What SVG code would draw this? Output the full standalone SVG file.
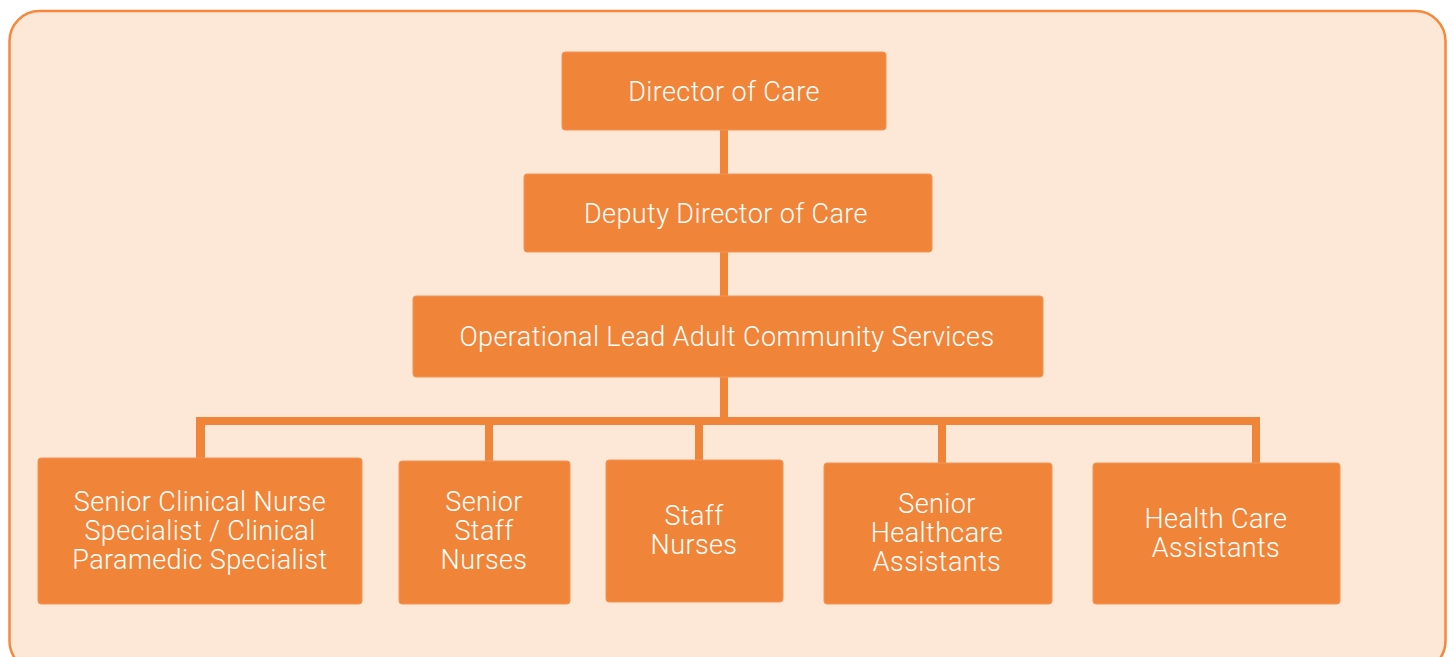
<svg xmlns="http://www.w3.org/2000/svg" width="1454" height="657" viewBox="0 0 1454 657">
<style>
.box{fill:#f08539;stroke:#f29556;stroke-width:1}
.t{fill:#ffffff;font-family:Roboto,"Liberation Sans",Arial,sans-serif;font-weight:300;font-size:27px;letter-spacing:0.4px;text-anchor:middle}
.c{fill:#f08539}
</style>
<rect x="9.5" y="11" width="1436" height="660" rx="30" ry="30" fill="#fde7d7" stroke="#f5883b" stroke-width="2.5"/>
<g id="connectors">
<rect class="c" x="720" y="130" width="8" height="44"/>
<rect class="c" x="720" y="252" width="8" height="44"/>
<rect class="c" x="720" y="377" width="8" height="44"/>
<rect class="c" x="196" y="417" width="1064" height="8"/>
<rect class="c" x="196" y="417" width="9" height="42"/>
<rect class="c" x="485" y="417" width="8" height="44"/>
<rect class="c" x="695" y="417" width="8" height="44"/>
<rect class="c" x="938" y="417" width="8" height="46"/>
<rect class="c" x="1252" y="417" width="8" height="46"/>
</g>
<g id="director">
<rect class="box" x="562" y="52" width="324" height="78" rx="3"/>
<text class="t" x="724" y="101">Director of Care</text>
</g>
<g id="deputy">
<rect class="box" x="524" y="174" width="408" height="78" rx="3"/>
<text class="t" x="726" y="223">Deputy Director of Care</text>
</g>
<g id="operational">
<rect class="box" x="413" y="296" width="630" height="81" rx="3"/>
<text class="t" x="727" y="346">Operational Lead Adult Community Services</text>
</g>
<g id="senior-clinical">
<rect class="box" x="38" y="458" width="324" height="146" rx="3"/>
<text class="t" x="200" y="511">Senior Clinical Nurse</text>
<text class="t" x="200" y="540">Specialist / Clinical</text>
<text class="t" x="200" y="569">Paramedic Specialist</text>
</g>
<g id="senior-staff-nurses">
<rect class="box" x="399" y="461" width="171" height="143" rx="3"/>
<text class="t" x="484" y="511">Senior</text>
<text class="t" x="484" y="540">Staff</text>
<text class="t" x="484" y="569">Nurses</text>
</g>
<g id="staff-nurses">
<rect class="box" x="606" y="460" width="177" height="142" rx="3"/>
<text class="t" x="694" y="525">Staff</text>
<text class="t" x="694" y="554">Nurses</text>
</g>
<g id="senior-hca">
<rect class="box" x="824" y="463" width="228" height="141" rx="3"/>
<text class="t" x="937" y="513">Senior</text>
<text class="t" x="937" y="542">Healthcare</text>
<text class="t" x="937" y="571">Assistants</text>
</g>
<g id="hca">
<rect class="box" x="1093" y="463" width="247" height="141" rx="3"/>
<text class="t" x="1216" y="528">Health Care</text>
<text class="t" x="1216" y="557">Assistants</text>
</g>
</svg>
